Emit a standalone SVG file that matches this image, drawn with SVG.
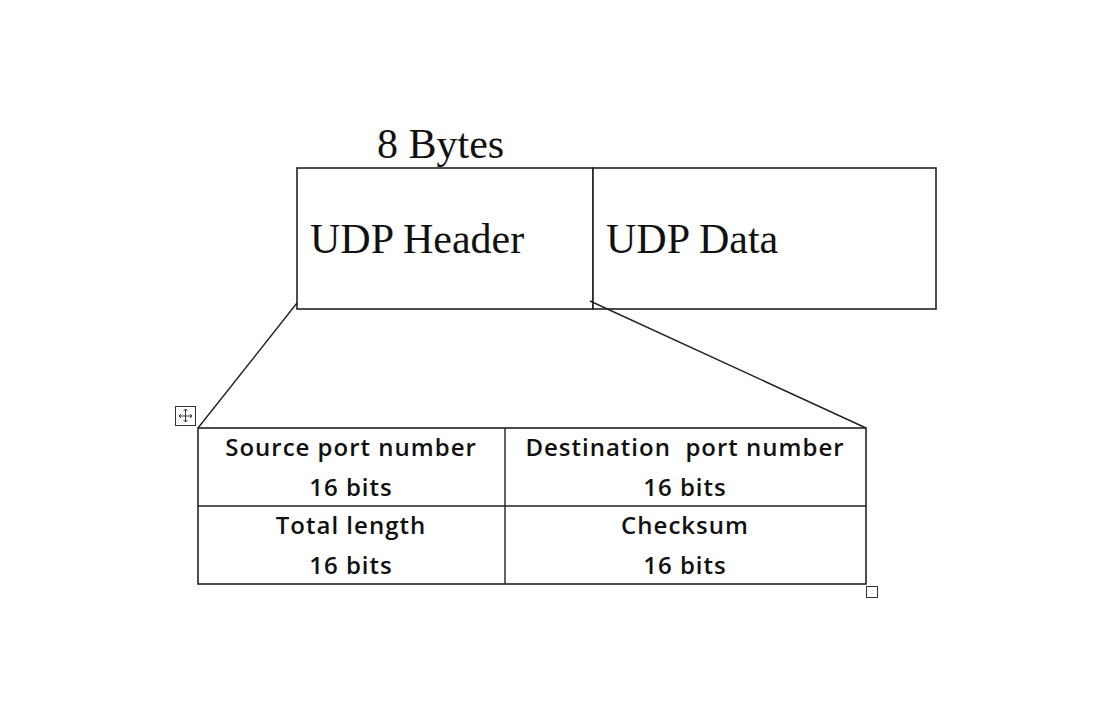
<svg xmlns="http://www.w3.org/2000/svg" width="1107" height="716" viewBox="0 0 1107 716">
<style>
.box{fill:#fff;stroke:#222;stroke-width:1.6}
.ln{stroke:#222;stroke-width:1.4;fill:none}
.serif{font-family:"Liberation Serif","Times New Roman",serif;font-size:42px;fill:#111}
.cell{font-family:"Open Sans","DejaVu Sans",sans-serif;font-size:24px;font-weight:600;fill:#111;text-anchor:middle;letter-spacing:1px;white-space:pre}
</style>
<rect width="1107" height="716" fill="#fff"/>
<g id="label-8bytes"><text class="serif" x="377" y="158">8 Bytes</text></g>
<g id="udp-header">
<rect class="box" x="297" y="168" width="296" height="141"/>
<text class="serif" x="310" y="253">UDP Header</text>
</g>
<g id="udp-data">
<rect class="box" x="593" y="168" width="343" height="141"/>
<text class="serif" x="606" y="253">UDP Data</text>
</g>
<g id="header-table">
<rect class="box" x="198" y="428" width="668" height="156"/>
<line class="ln" x1="198" y1="506" x2="866" y2="506"/>
<line class="ln" x1="505" y1="428" x2="505" y2="584"/>
<text class="cell" x="351" y="456">Source port number</text>
<text class="cell" x="351" y="496">16 bits</text>
<text class="cell" x="351" y="534">Total length</text>
<text class="cell" x="351" y="574">16 bits</text>
<text class="cell" x="685" y="456" xml:space="preserve">Destination  port number</text>
<text class="cell" x="685" y="496">16 bits</text>
<text class="cell" x="685" y="534">Checksum</text>
<text class="cell" x="685" y="574">16 bits</text>
</g>
<g id="connectors">
<line class="ln" x1="297" y1="303" x2="198" y2="428"/>
<line class="ln" x1="590" y1="301" x2="866" y2="428"/>
</g>
<g id="move-handle">
<rect x="175.5" y="406.5" width="20" height="19" fill="#fff" stroke="#333" stroke-width="1"/>
<path d="M185.5 409v13M179 416h13M183.5 411l2-2 2 2M183.5 420l2 2 2-2M181 414l-2 2 2 2M190 414l2 2-2 2" fill="none" stroke="#333" stroke-width="1"/>
</g>
<g id="resize-handle">
<rect x="866.5" y="586.5" width="11" height="11" fill="#fff" stroke="#333" stroke-width="1"/>
</g>
</svg>
